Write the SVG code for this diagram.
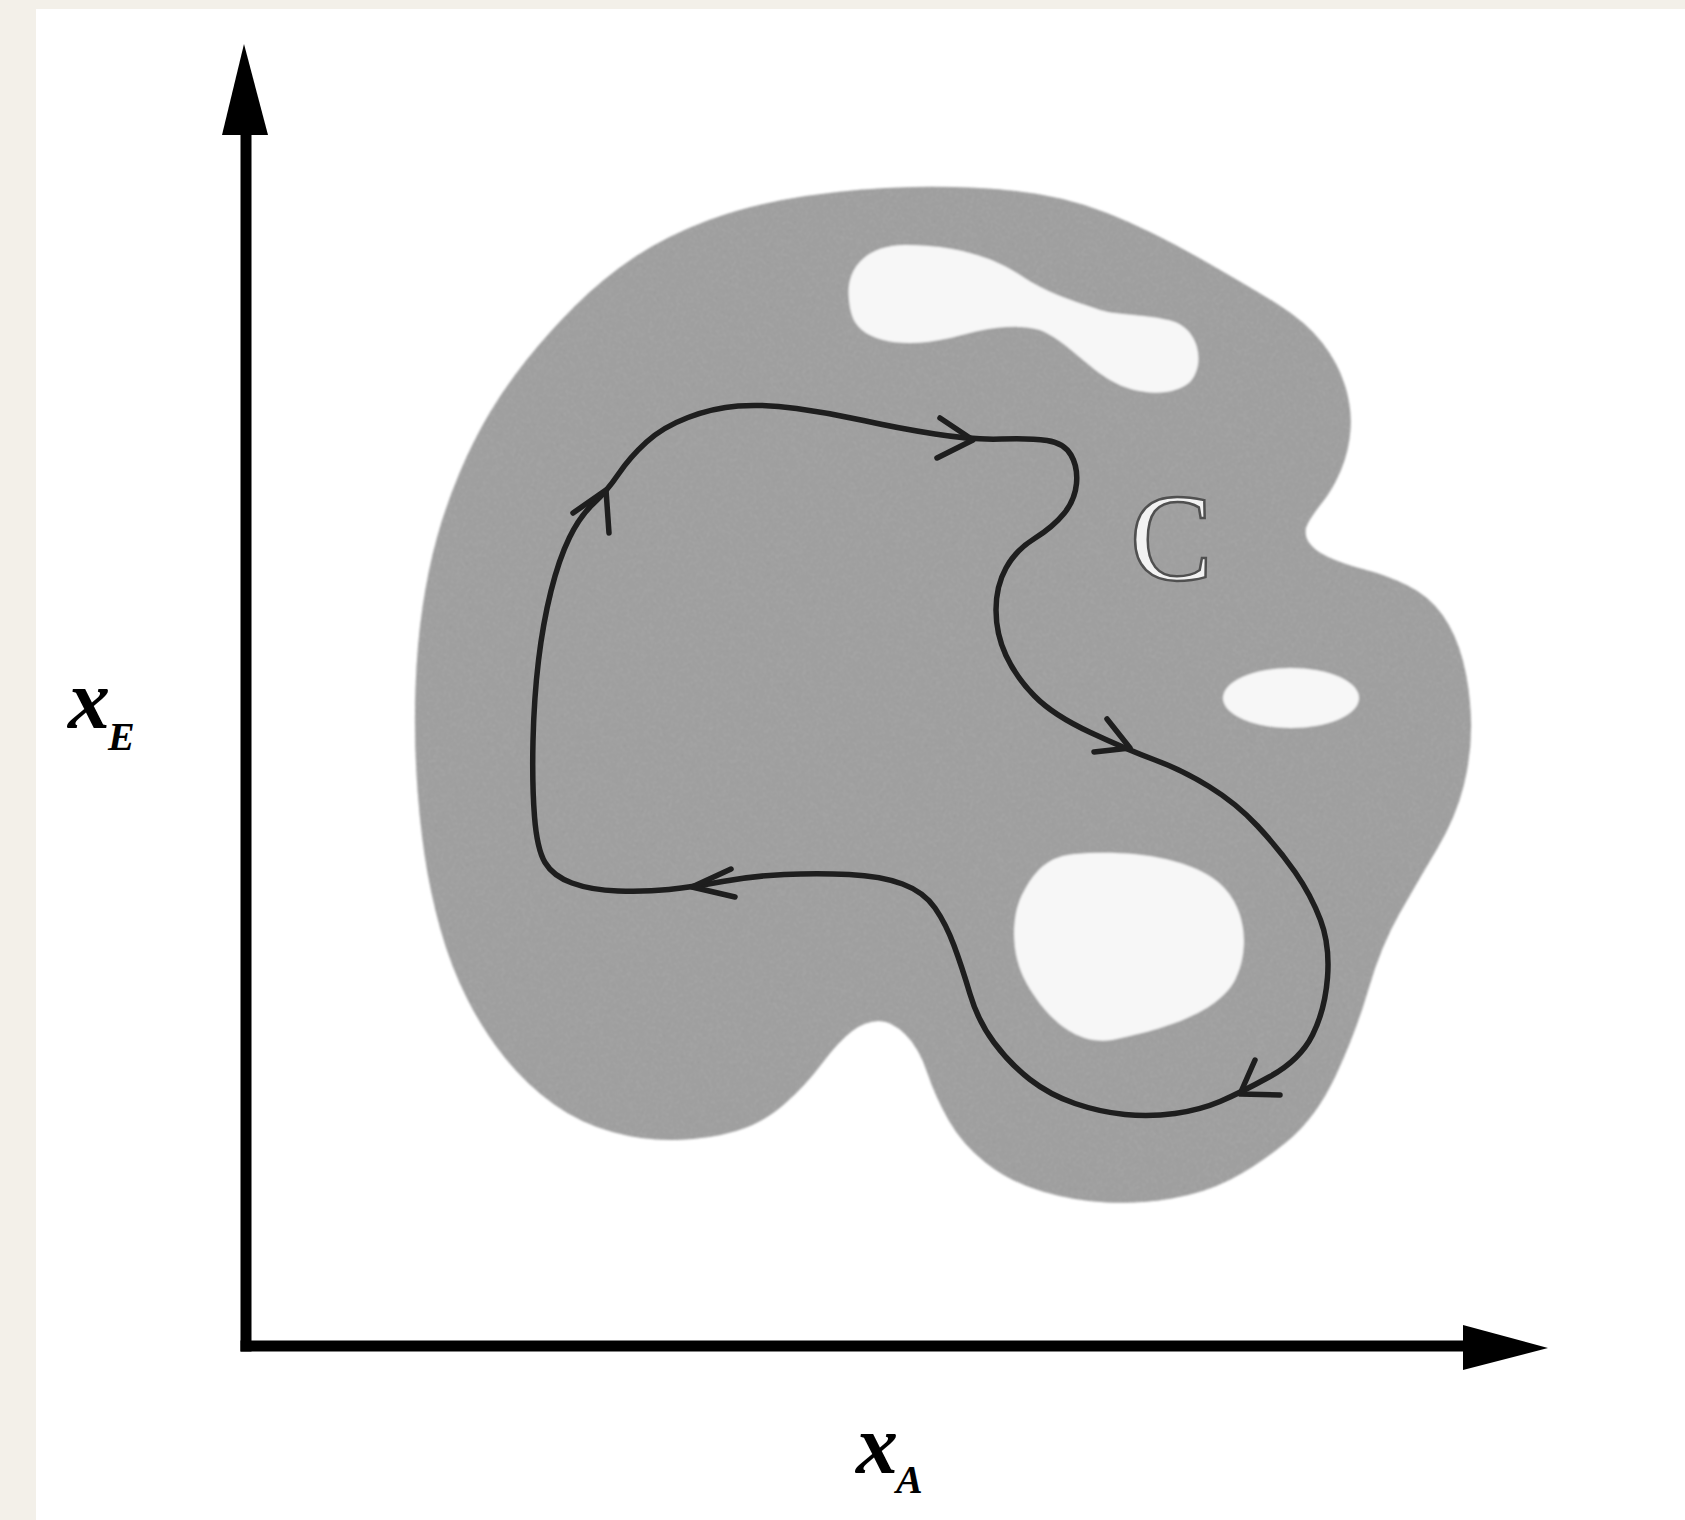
<svg xmlns="http://www.w3.org/2000/svg" width="1685" height="1520" viewBox="0 0 1685 1520">
<style>
.axis{stroke:#000;stroke-width:11;fill:none}
.head{fill:#000}
.blob{fill:#969696}
.hole{fill:#f7f7f7}
.loop{fill:none;stroke:#1e1e1e;stroke-width:5.5;stroke-linejoin:round;stroke-linecap:round}
.lbl{font-family:"Liberation Serif","DejaVu Serif",serif;font-style:italic;font-weight:bold;fill:#000}
.cl{font-family:"Liberation Serif","DejaVu Serif",serif;font-size:124px;fill:#f2f2f2;stroke:#505050;stroke-width:2.5}
</style>
<defs>
<filter id="soft" x="-5%" y="-5%" width="110%" height="110%"><feGaussianBlur stdDeviation="1.3"/></filter>
<filter id="grain" x="0" y="0" width="100%" height="100%">
<feTurbulence type="fractalNoise" baseFrequency="0.85" numOctaves="2" seed="4" result="n"/>
<feColorMatrix in="n" type="matrix" values="1 0 0 0 0  1 0 0 0 0  1 0 0 0 0  0 0 0 0 0.25" result="g"/>
<feComposite in="g" in2="SourceGraphic" operator="in" result="gi"/>
<feMerge><feMergeNode in="SourceGraphic"/><feMergeNode in="gi"/></feMerge>
</filter>
</defs>
<rect x="0" y="0" width="1685" height="1520" fill="#f3f0e9"/>
<rect x="36" y="9" width="1649" height="1511" fill="#ffffff"/>

<g id="region" filter="url(#soft)">
<path class="blob" filter="url(#grain)" d="M806,196 Q860,188 913.5,187 Q967,186 1015.5,191 Q1064,196 1107,213 Q1150,230 1200,258.5 Q1250,287 1278,304.5 Q1306,322 1322,342.5 Q1338,363 1345,385.5 Q1352,408 1350.5,429.5 Q1349,451 1341,470 Q1333,489 1323,501.5 Q1313,514 1308,523 Q1303,532 1308,541 Q1313,550 1328,557 Q1343,564 1364.5,569.5 Q1386,575 1407.5,585.5 Q1429,596 1442.5,615 Q1456,634 1463,661 Q1470,688 1471,720 Q1472,752 1464,784.5 Q1456,817 1437,849 Q1418,881 1399.5,913.5 Q1381,946 1368.5,989 Q1356,1032 1336,1075 Q1316,1118 1286.5,1142 Q1257,1166 1230.5,1179.5 Q1204,1193 1171.5,1198.5 Q1139,1204 1107,1202.5 Q1075,1201 1042.5,1191.5 Q1010,1182 986,1163 Q962,1144 948.5,1120 Q935,1096 927,1072 Q919,1048 905.5,1034.5 Q892,1021 878.5,1021 Q865,1021 851.5,1031.5 Q838,1042 822,1063.5 Q806,1085 784.5,1104 Q763,1123 736,1131 Q709,1139 677,1140 Q645,1141 612.5,1132 Q580,1123 553.5,1104 Q527,1085 505.5,1058.5 Q484,1032 467.5,999.5 Q451,967 440.5,929.5 Q430,892 424.5,854.5 Q419,817 416.5,774 Q414,731 415.5,688 Q417,645 422.5,607.5 Q428,570 437,537.5 Q446,505 459.5,473 Q473,441 489,414 Q505,387 526.5,360 Q548,333 575,306 Q602,279 634,257.5 Q666,236 709,220 Q752,204 806,196 Z"/>
<path class="hole" d="M849,300 C845,265 870,245 905,245 C950,245 990,255 1020,275 C1045,292 1070,300 1100,310 C1120,316 1150,314 1175,322 C1200,332 1205,365 1190,382 C1172,398 1135,395 1110,380 C1085,365 1065,340 1040,330 C1010,322 980,330 950,338 C915,346 880,345 862,330 C852,322 850,310 849,300 Z"/>
<ellipse class="hole" cx="1291" cy="698" rx="68" ry="30"/>
<path class="hole" d="M1075,854 C1125,850 1185,856 1218,882 C1248,907 1250,952 1234,982 C1214,1015 1160,1030 1112,1040 C1072,1046 1043,1012 1027,984 C1010,955 1011,915 1023,893 C1037,866 1052,856 1075,854 Z"/>
</g>

<g id="axes">
<line class="axis" x1="246" y1="128" x2="246" y2="1351.5"/>
<polygon class="head" points="244,44 222,135 268,135"/>
<line class="axis" x1="240.5" y1="1346" x2="1468" y2="1346"/>
<polygon class="head" points="1548,1348 1463,1325 1463,1370"/>
</g>

<g id="label-xE">
<text class="lbl" x="68" y="728" font-size="84">x<tspan font-size="40" x="108" y="750">E</tspan></text>
</g>
<g id="label-xA">
<text class="lbl" x="856" y="1473" font-size="84">x<tspan font-size="40" x="896" y="1493">A</tspan></text>
</g>
<g id="label-C">
<text class="cl" x="1130" y="580">C</text>
</g>

<g id="connectors">
<path class="loop" d="M593.5,503.5 Q607,491 618.5,474 Q630,457 646.5,442 Q663,427 688,417.5 Q713,408 738,406 Q763,404 796.5,408.5 Q830,413 863.5,420.5 Q897,428 935,434 Q973,440 1001.5,439 Q1030,438 1047,440.5 Q1064,443 1071,455 Q1078,467 1076.5,483.5 Q1075,500 1064,513.5 Q1053,527 1034.5,538.5 Q1016,550 1006,568 Q996,586 996,610 Q996,634 1006,655.5 Q1016,677 1034.5,696 Q1053,715 1090.5,732.5 Q1128,750 1155,760 Q1182,770 1209,786.5 Q1236,803 1257.5,826 Q1279,849 1295,872 Q1311,895 1320.5,920 Q1330,945 1327.5,977.5 Q1325,1010 1312.5,1035 Q1300,1060 1270,1076.5 Q1240,1093 1220,1101.5 Q1200,1110 1175,1113.5 Q1150,1117 1125,1114.5 Q1100,1112 1075,1103.5 Q1050,1095 1030,1079.5 Q1010,1064 994,1042.5 Q978,1021 970,994 Q962,967 954,945.5 Q946,924 935,908 Q924,892 902.5,884 Q881,876 849,874.5 Q817,873 784.5,874.5 Q752,876 722.5,881.5 Q693,887 669,889.5 Q645,892 618,891 Q591,890 572,883 Q553,876 545,862.5 Q537,849 534.5,816.5 Q532,784 533,741 Q534,698 538.5,660.5 Q543,623 551,591 Q559,559 569.5,537.5 Q580,516 593.5,503.5 Z"/>
<path class="loop" d="M573,513 L606,490 L609,533"/>
<path class="loop" d="M940,418 L973,440 L937,458"/>
<path class="loop" d="M1107,719 L1130,748 L1094,752"/>
<path class="loop" d="M1255,1060 L1240,1094 L1280,1095"/>
<path class="loop" d="M731,869 L692,887 L735,897"/>
</g>
</svg>
